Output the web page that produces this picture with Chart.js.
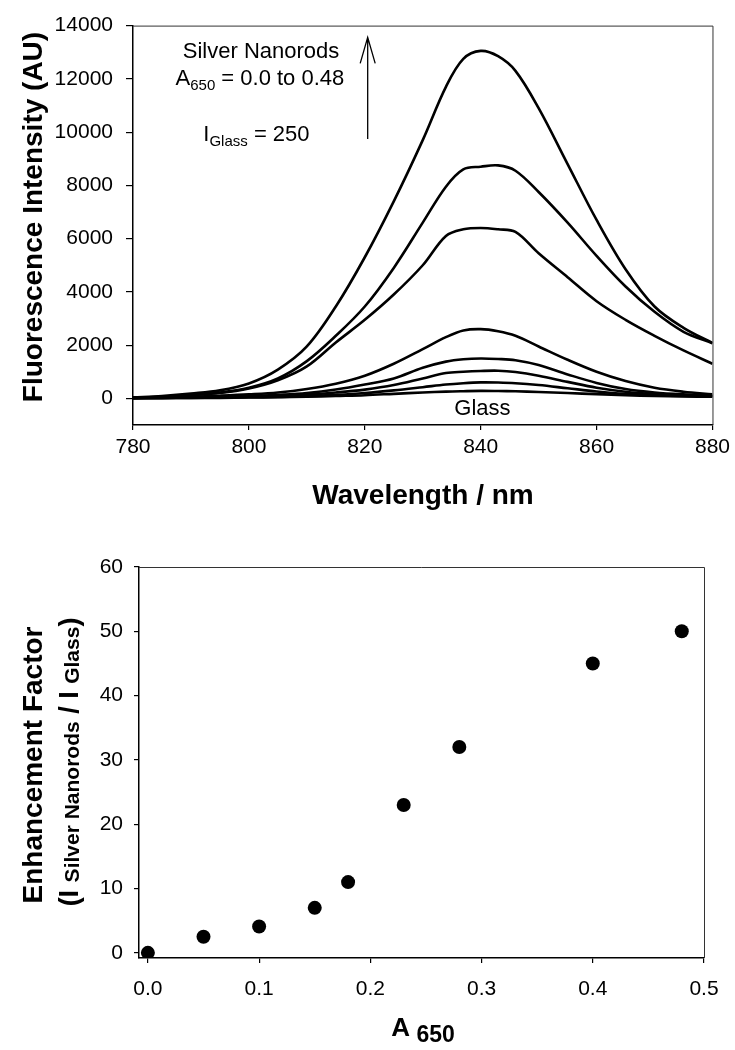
<!DOCTYPE html>
<html>
<head>
<meta charset="utf-8">
<script src="https://cdn.jsdelivr.net/npm/chart.js@4.4.0/dist/chart.umd.min.js"></script>
<style>
    html, body { margin: 0; padding: 0; background: #fff; }
    #wrap { position: relative; width: 735px; height: 1050px; }
    #spec { position: absolute; left: 0; top: 0; }
    #enh { position: absolute; left: 0; top: 520px; }
</style>
</head>
<body>
<div id="wrap">
    <canvas id="spec" width="735" height="520"></canvas>
    <canvas id="enh" width="735" height="530"></canvas>
</div>
<script>
// Phổ huỳnh quang (trên)
const wavelengths = [780, 785, 790, 795, 800, 805, 810, 815, 820, 825, 830, 834, 837, 840, 843, 846, 850, 855, 860, 865, 870, 875, 880];
const trace1 = [5, 10, 15, 20, 30, 45, 60, 90, 120, 170, 220, 255, 270, 280, 275, 265, 240, 200, 160, 120, 90, 70, 60];
const trace2 = [10, 15, 20, 30, 40, 55, 80, 130, 200, 300, 420, 520, 570, 600, 595, 570, 500, 380, 260, 170, 120, 90, 80];
const trace3 = [10, 20, 30, 45, 60, 90, 140, 220, 330, 500, 750, 950, 1000, 1030, 1040, 990, 850, 620, 400, 250, 160, 110, 90];
const trace4 = [15, 25, 40, 60, 80, 130, 200, 330, 520, 750, 1150, 1380, 1470, 1500, 1480, 1430, 1250, 900, 580, 350, 220, 150, 110];
const trace5 = [20, 30, 60, 100, 150, 220, 350, 550, 850, 1300, 1850, 2300, 2550, 2600, 2520, 2350, 1950, 1450, 1000, 650, 400, 250, 150];
const trace6 = [30, 60, 120, 200, 370, 680, 1200, 2100, 2950, 3900, 5000, 6100, 6350, 6400, 6350, 6250, 5450, 4550, 3650, 2950, 2350, 1800, 1300];
const trace7 = [30, 60, 130, 220, 400, 750, 1400, 2350, 3450, 4900, 6600, 7950, 8600, 8700, 8750, 8550, 7750, 6600, 5350, 4200, 3250, 2500, 2070];
const trace8 = [30, 90, 180, 300, 560, 1080, 1950, 3450, 5300, 7400, 9700, 11700, 12750, 13050, 12850, 12300, 10900, 8800, 6700, 4850, 3450, 2650, 2080];
const specTicksX = [780, 800, 820, 840, 860, 880];
const specTicksY = [0, 2000, 4000, 6000, 8000, 10000, 12000, 14000];

// Hệ số tăng cường (dưới)
const a650 = [0, 0.05, 0.1, 0.15, 0.18, 0.23, 0.28, 0.4, 0.48];
const enhancement = [0, 2.5, 4.1, 7, 11, 23, 32, 45, 50];
const enhTicksX = [0, 0.1, 0.2, 0.3, 0.4, 0.5];
const enhTicksY = [0, 10, 20, 30, 40, 50, 60];

const FONT = '"Liberation Sans", Arial, sans-serif';
Chart.defaults.font.family = FONT;
Chart.defaults.font.size = 21;
Chart.defaults.color = '#000';

// Vẽ chữ nhiều cỡ (chỉ số dưới), căn giữa theo tâm chữ hoa
function drawRuns(ctx, runs, x, y, angle) {
    ctx.save();
    ctx.translate(x, y);
    ctx.rotate(angle || 0);
    ctx.fillStyle = '#000';
    ctx.textAlign = 'left';
    ctx.textBaseline = 'alphabetic';
    let total = 0;
    runs.forEach(r => {
        ctx.font = (r.bold ? 'bold ' : '') + r.size + 'px ' + FONT;
        r.w = ctx.measureText(r.t).width;
        total += r.w;
    });
    const base = 0.36 * Math.max(...runs.map(r => r.size));
    let cx = -total / 2;
    runs.forEach(r => {
        ctx.font = (r.bold ? 'bold ' : '') + r.size + 'px ' + FONT;
        ctx.fillText(r.t, cx, base + (r.dy || 0));
        cx += r.w;
    });
    ctx.restore();
}

const textLayer = {
    id: 'textLayer',
    afterDraw(chart, args, opts) {
        const ctx = chart.ctx;
        const area = chart.chartArea;
        const xs = chart.scales.x, ys = chart.scales.y;

        // khung trên và phải
        ctx.save();
        ctx.strokeStyle = '#333';
        ctx.lineWidth = 1;
        ctx.beginPath();
        ctx.moveTo(area.left, area.top + 0.5);
        ctx.lineTo(area.right + 0.5, area.top + 0.5);
        ctx.lineTo(area.right + 0.5, area.bottom);
        ctx.stroke();
        ctx.restore();

        if (opts.arrow) {
            const a = opts.arrow;
            const px = xs.getPixelForValue(a.x);
            const y1 = ys.getPixelForValue(a.from);
            const y2 = ys.getPixelForValue(a.to);
            ctx.save();
            ctx.strokeStyle = '#000';
            ctx.lineWidth = 1.3;
            ctx.beginPath();
            ctx.moveTo(px, y1);
            ctx.lineTo(px, y2);
            ctx.moveTo(px - 7.5, y2 + 26);
            ctx.lineTo(px, y2);
            ctx.lineTo(px + 7.5, y2 + 26);
            ctx.stroke();
            ctx.restore();
        }

        (opts.items || []).forEach(it => {
            const px = it.data ? xs.getPixelForValue(it.x) : it.x;
            const py = it.data ? ys.getPixelForValue(it.y) : it.y;
            drawRuns(ctx, it.runs, px, py, it.angle);
        });
    }
};

const axisStyle = {
    grid: { drawOnChartArea: false, color: '#000', lineWidth: 1.2 },
    border: { color: '#000', width: 1.5 }
};

// Biểu đồ phổ
const traces = [trace1, trace2, trace3, trace4, trace5, trace6, trace7, trace8];
new Chart(document.getElementById('spec'), {
    type: 'line',
    data: {
        datasets: traces.map((t, i) => ({
            label: 'trace ' + (i + 1),
            data: wavelengths.map((w, j) => ({ x: w, y: t[j] })),
            borderColor: '#000',
            borderWidth: 2.6,
            pointRadius: 0,
            fill: false,
            tension: 0.35
        }))
    },
    options: {
        responsive: false,
        animation: false,
        layout: { padding: { left: 0, top: 20, right: 22, bottom: 0 } },
        plugins: {
            legend: { display: false },
            tooltip: { enabled: false },
            textLayer: {
                arrow: { x: 820.5, from: 9740, to: 13560 },
                items: [
                    { data: true, x: 802.1, y: 13075, runs: [{ t: 'Silver Nanorods', size: 22 }] },
                    { data: true, x: 801.9, y: 12057, runs: [
                        { t: 'A', size: 22 }, { t: '650', size: 15, dy: 5 }, { t: ' = 0.0 to 0.48', size: 22 }] },
                    { data: true, x: 801.3, y: 9963, runs: [
                        { t: 'I', size: 22 }, { t: 'Glass', size: 15, dy: 5 }, { t: ' = 250', size: 22 }] },
                    { data: true, x: 840.3, y: -333, runs: [{ t: 'Glass', size: 22 }] },
                    { x: 423, y: 494, runs: [{ t: 'Wavelength / nm', size: 28, bold: true }] },
                    { x: 32, y: 217, angle: -Math.PI / 2, runs: [{ t: 'Fluorescence Intensity (AU)', size: 28, bold: true }] }
                ]
            }
        },
        scales: {
            x: {
                type: 'linear', min: 780, max: 880,
                afterBuildTicks: s => { s.ticks = specTicksX.map(v => ({ value: v })); },
                afterFit: s => { s.height = 95; },
                grid: { ...axisStyle.grid, tickLength: 5 },
                border: axisStyle.border,
                ticks: { padding: 5, maxRotation: 0, autoSkip: false, callback: v => String(v) }
            },
            y: {
                min: -1000, max: 14000,
                afterBuildTicks: s => { s.ticks = specTicksY.map(v => ({ value: v })); },
                afterFit: s => { s.width = 133; },
                grid: { ...axisStyle.grid, tickLength: 7 },
                border: axisStyle.border,
                ticks: { padding: 13, autoSkip: false, callback: v => String(v) }
            }
        }
    },
    plugins: [textLayer]
});

// Biểu đồ hệ số tăng cường
new Chart(document.getElementById('enh'), {
    type: 'scatter',
    data: {
        datasets: [{
            label: 'Enhancement Factor',
            data: a650.map((a, i) => ({ x: a, y: enhancement[i] })),
            backgroundColor: '#000',
            borderColor: '#000',
            borderWidth: 0,
            pointRadius: 7
        }]
    },
    options: {
        responsive: false,
        animation: false,
        layout: { padding: { left: 0, top: 47, right: 31, bottom: 0 } },
        plugins: {
            legend: { display: false },
            tooltip: { enabled: false },
            textLayer: {
                items: [
                    { x: 32, y: 245, angle: -Math.PI / 2, runs: [{ t: 'Enhancement Factor', size: 28, bold: true }] },
                    { x: 68, y: 242, angle: -Math.PI / 2, runs: [
                        { t: '(I ', size: 27, bold: true },
                        { t: 'Silver Nanorods', size: 21, bold: true, dy: 1 },
                        { t: ' / I ', size: 27, bold: true },
                        { t: 'Glass', size: 21, bold: true, dy: 1 },
                        { t: ')', size: 27, bold: true }] },
                    { x: 423, y: 507, runs: [
                        { t: 'A', size: 26, bold: true }, { t: ' 650', size: 23, bold: true, dy: 6 }] }
                ]
            }
        },
        scales: {
            x: {
                type: 'linear', min: -0.008, max: 0.5,
                afterBuildTicks: s => { s.ticks = enhTicksX.map(v => ({ value: v })); },
                afterFit: s => { s.height = 92; },
                grid: { ...axisStyle.grid, tickLength: 5 },
                border: axisStyle.border,
                ticks: { padding: 14, maxRotation: 0, autoSkip: false, callback: v => v.toFixed(1) }
            },
            y: {
                min: -0.8, max: 60,
                afterBuildTicks: s => { s.ticks = enhTicksY.map(v => ({ value: v })); },
                afterFit: s => { s.width = 139; },
                grid: { ...axisStyle.grid, tickLength: 5 },
                border: axisStyle.border,
                ticks: { padding: 11, autoSkip: false, callback: v => String(v) }
            }
        }
    },
    plugins: [textLayer]
});
</script>
</body>
</html>
